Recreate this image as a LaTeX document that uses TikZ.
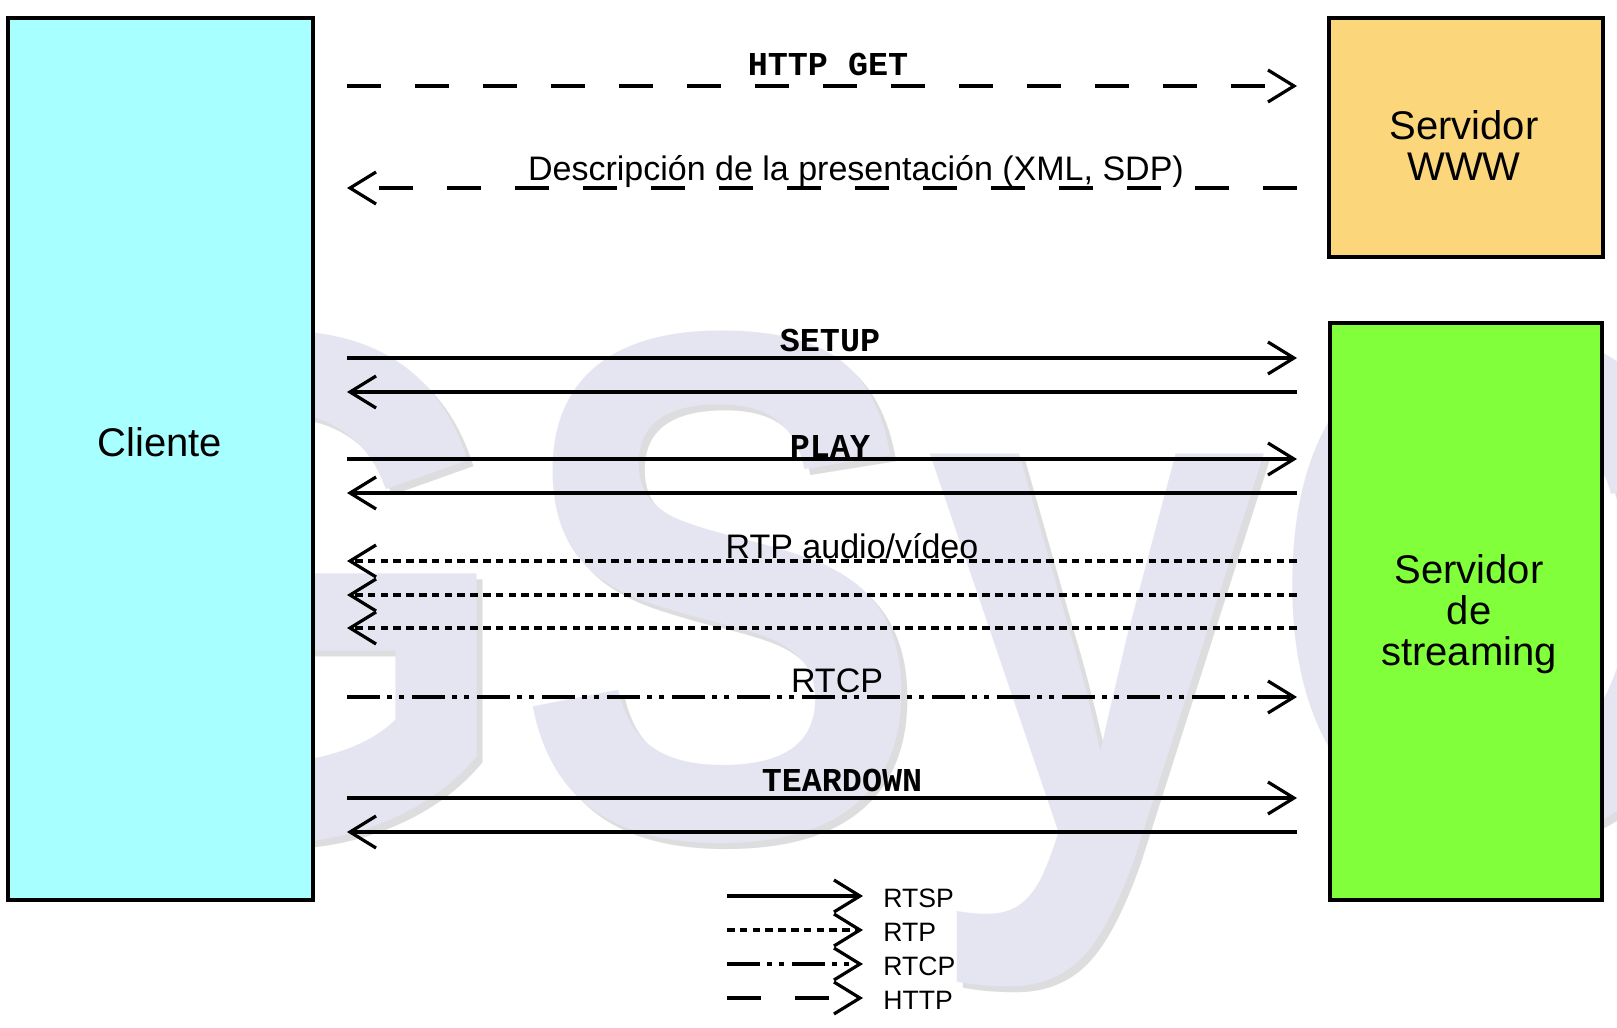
\documentclass[tikz,border=0pt]{standalone}
\usepackage{fontspec}
\setmainfont{Liberation Sans}
\newfontfamily\codefont{Liberation Mono}
\newfontfamily\wmfont[FakeStretch=0.85]{Liberation Sans Bold}
\usetikzlibrary{arrows.meta}
\definecolor{clientfill}{RGB}{168,255,255}
\definecolor{wwwfill}{RGB}{252,214,122}
\definecolor{streamfill}{RGB}{128,255,58}
\definecolor{wmcol}{RGB}{229,229,242}
\definecolor{wmshadow}{RGB}{221,221,224}
\tikzset{
  box/.style={draw=black, line width=1.7pt, inner sep=0pt},
  boxtext/.style={inner sep=0pt, anchor=base, align=center, font=\fontsize{20}{20.5}\selectfont},
  msg/.style={line width=1.6pt, -{Straight Barb[length=13pt,width=16pt,line width=1.6pt]}},
  rtsp/.style={msg},
  rtp/.style={msg, dash pattern=on 3.8pt off 2.6pt},
  rtcp/.style={msg, dash pattern=on 16.5pt off 3.5pt on 2.5pt off 3.5pt on 2.5pt off 4pt},
  http/.style={msg, dash pattern=on 17pt off 17pt},
  lbl/.style={inner sep=0pt, anchor=base, font=\fontsize{17}{20}\selectfont},
  cmd/.style={inner sep=0pt, anchor=base, font=\codefont\bfseries\fontsize{16.7}{20}\selectfont},
  legtext/.style={inner sep=0pt, anchor=base west, font=\fontsize{13.3}{16}\selectfont},
  wm/.style={inner sep=0pt, anchor=base west, font=\wmfont\fontsize{362}{400}\selectfont},
}
\begin{document}
\begin{tikzpicture}[x=0.5pt,y=-0.5pt]
\useasboundingbox (0,0) rectangle (1617,1028);
\fill[white] (0,0) rectangle (1617,1028);
% watermark
\node[wm, text=wmshadow] (wmshad) at (42,842) {GSyC};
\node[wm, text=wmcol] (wmark) at (36,836) {GSyC};
% boxes
\node[box, fill=clientfill, minimum width=152.5pt, minimum height=441pt] (cliente) at (160.5,459) {};
\node[box, fill=wwwfill, minimum width=137pt, minimum height=119.5pt] (www) at (1466,137.5) {};
\node[box, fill=streamfill, minimum width=136pt, minimum height=288.5pt] (stream) at (1466,611.5) {};
\node[boxtext] (tcliente) at (160,456) {Cliente};
\node[boxtext] (twww) at (1464,180) {Servidor\\WWW};
\node[boxtext] (tstream) at (1469,665) {Servidor\\de\\streaming};
% endpoints
\foreach \n/\y in {a/86,b/188,c/358,d/392,e/459,f/493,g/561,h/595,i/628,j/697,k/798,l/832}{
  \coordinate (L\n) at (347,\y);
  \coordinate (R\n) at (1297,\y);
}
\draw[http] (La) -- (Ra);
\draw[http] (Rb) -- (Lb);
\draw[rtsp] (Lc) -- (Rc);
\draw[rtsp] (Rd) -- (Ld);
\draw[rtsp] (Le) -- (Re);
\draw[rtsp] (Rf) -- (Lf);
\draw[rtp] (Rg) -- (Lg);
\draw[rtp] (Rh) -- (Lh);
\draw[rtp] (Ri) -- (Li);
\draw[rtcp] (Lj) -- (Rj);
\draw[rtsp] (Lk) -- (Rk);
\draw[rtsp] (Rl) -- (Ll);
% labels
\node[cmd] (lget) at (828,75) {HTTP GET};
\node[lbl] (ldesc) at (856,180) {Descripción de la presentación (XML, SDP)};
\node[cmd] (lsetup) at (830,351) {SETUP};
\node[cmd] (lplay) at (830,457) {PLAY};
\node[lbl] (lrtp) at (852,558) {RTP audio/vídeo};
\node[lbl] (lrtcp) at (837,692) {RTCP};
\node[cmd] (ltear) at (842,791) {TEARDOWN};
% legend
\foreach \n/\y in {1/896,2/930,3/964,4/998}{
  \coordinate (A\n) at (727,\y);
  \coordinate (B\n) at (863,\y);
}
\draw[rtsp] (A1) -- (B1);
\draw[rtp] (A2) -- (B2);
\draw[rtcp] (A3) -- (B3);
\draw[http] (A4) -- (B4);
\node[legtext] (g1) at (883,907) {RTSP};
\node[legtext] (g2) at (883,941) {RTP};
\node[legtext] (g3) at (883,975) {RTCP};
\node[legtext] (g4) at (883,1009) {HTTP};
\end{tikzpicture}
\end{document}
